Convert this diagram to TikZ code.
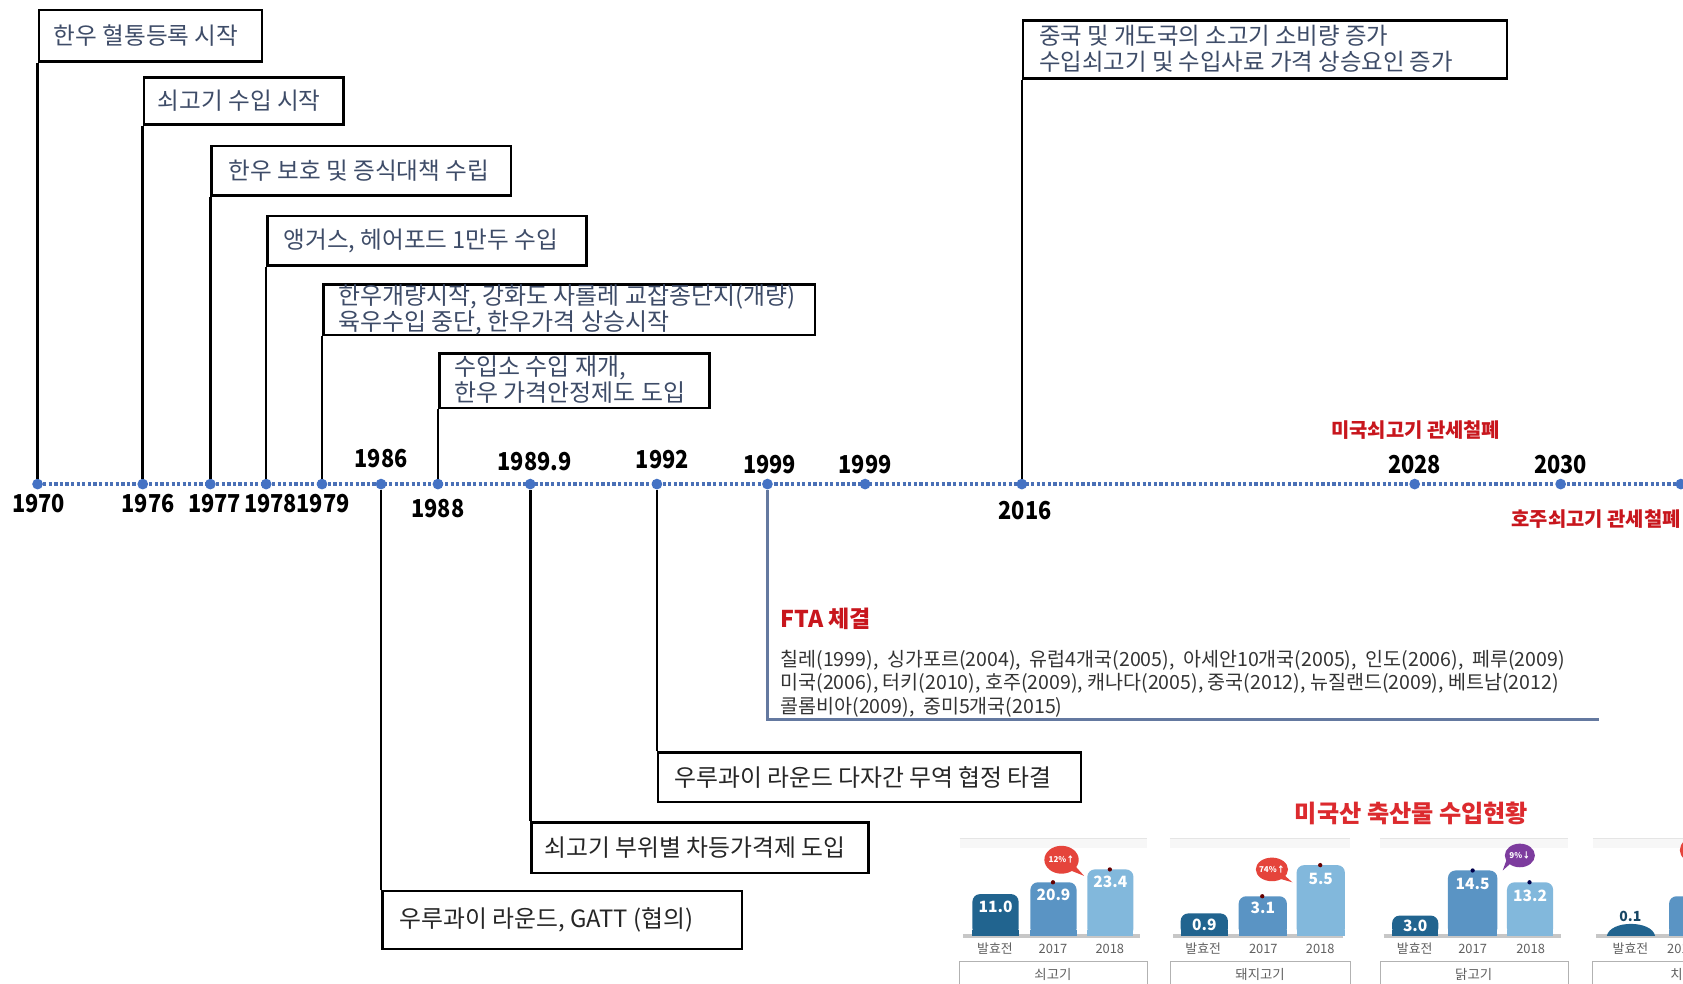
\documentclass[tikz,border=0pt]{standalone}
\usepackage{fontspec}
\setmainfont{Noto Sans CJK KR}
\newfontfamily\yrfont{Noto Sans CJK KR}[FakeStretch=0.88]
\definecolor{tl}{HTML}{4A70B6}
\definecolor{dotc}{HTML}{4472C4}
\definecolor{slate}{HTML}{3E4C68}
\definecolor{redt}{HTML}{C8161D}
\definecolor{titred}{HTML}{DC2A2E}
\definecolor{ftaline}{HTML}{6479A0}
\definecolor{barA}{HTML}{21648F}
\definecolor{barB}{HTML}{5A94C4}
\definecolor{barC}{HTML}{82B8DC}
\definecolor{bubR}{HTML}{E5443B}
\definecolor{bubP}{HTML}{7D3C9E}
\definecolor{grayt}{HTML}{606060}
\newcommand\chartbar[6]{%
  \fill[#1, rounded corners=7pt] (#2,872) rectangle (#3,#4);
  \fill[#1] (#2,872) rectangle (#3,866);
  \node[valtxt] at ({(#2+#3)/2},{#4+#6}) {#5};}
\begin{document}
\begin{tikzpicture}[x=1pt,y=-1pt,
  evbox/.style={draw=black, line width=2.4pt, fill=white, anchor=north west, inner sep=0pt},
  evtxt/.style={anchor=west, inner sep=0pt, text=slate, align=left, font=\fontsize{22}{24}\selectfont},
  evtxtb/.style={anchor=west, inner sep=0pt, text=slate, align=left, font=\fontsize{22.3}{24}\selectfont},
  lowtxt/.style={anchor=west, inner sep=0pt, text=black!85, font=\fontsize{22.2}{24}\selectfont},
  conn/.style={draw=black, line width=2.4pt},
  tline/.style={draw=tl, line width=3.5pt, dash pattern=on 3pt off 2.2pt},
  dot/.style={circle, fill=dotc, inner sep=0pt, minimum size=10pt},
  yr/.style={inner sep=0pt, font=\yrfont\fontsize{23}{26}\selectfont\bfseries},
  redlab/.style={inner sep=0pt, text=redt, font=\fontsize{18.5}{22}\selectfont\bfseries},
  valtxt/.style={inner sep=0pt, text=white, font=\fontsize{14.5}{16}\selectfont\bfseries},
  axtxt/.style={inner sep=0pt, text=grayt, font=\fontsize{12}{14}\selectfont},
  cattxt/.style={inner sep=0pt, text=grayt, font=\fontsize{12.5}{14}\selectfont},
  bubtxt/.style={inner sep=0pt, text=white, font=\fontsize{7.5}{9}\selectfont\bfseries}
]
\useasboundingbox (0,0) rectangle (1568,916);
\clip (0,0) rectangle (1568,916);
\fill[white] (0,0) rectangle (1568,916);

% timeline
\coordinate (tls) at (35,451);
\coordinate (tle) at (1570,451);
\draw[tline] (tls) -- (tle);

\node[dot] (d1970) at (35,451) {};
\node[dot] (d1976) at (133,451) {};
\node[dot] (d1977) at (196,451) {};
\node[dot] (d1978) at (248,451) {};
\node[dot] (d1979) at (300,451) {};
\node[dot] (d1986) at (355,451) {};
\node[dot] (d1988) at (408,451) {};
\node[dot] (d1989) at (494,451) {};
\node[dot] (d1992) at (612,451) {};
\node[dot] (d1999a) at (715,451) {};
\node[dot] (d1999b) at (806,451) {};
\node[dot] (d2016) at (952,451) {};
\node[dot] (d2028) at (1318,451) {};
\node[dot] (d2030) at (1454,451) {};
\node[dot] (dend) at (1566,451) {};

% year labels
\node[yr] at (36,469) {1970};
\node[yr] at (138,469) {1976};
\node[yr] at (200,469) {1977};
\node[yr] at (252,469) {1978};
\node[yr] at (301,469) {1979};
\node[yr] at (355,427) {1986};
\node[yr] at (408,474) {1988};
\node[yr] at (498,430) {1989.9};
\node[yr] at (617,428) {1992};
\node[yr] at (717,433) {1999};
\node[yr] at (806,433) {1999};
\node[yr] at (955,476) {2016};
\node[yr] at (1318,433) {2028};
\node[yr] at (1454,433) {2030};

\node[redlab] at (1319,401) {미국쇠고기 관세철폐};
\node[redlab, anchor=east] at (1566,484) {호주쇠고기 관세철폐};

% upper boxes
\node[evbox, minimum width=208pt, minimum height=48pt] (b1) at (35,8) {};
\node[evtxt] at ([xshift=15pt]b1.west) {한우 혈통등록 시작};
\node[evbox, minimum width=186pt, minimum height=44pt] (b2) at (133,71) {};
\node[evtxt] at ([xshift=14pt]b2.west) {쇠고기 수입 시작};
\node[evbox, minimum width=279pt, minimum height=46pt] (b3) at (196,135) {};
\node[evtxt] at ([xshift=17pt]b3.west) {한우 보호 및 증식대책 수립};
\node[evbox, minimum width=297pt, minimum height=46pt] (b4) at (248,200) {};
\node[evtxt] at ([xshift=16pt]b4.west) {앵거스, 헤어포드 1만두 수입};
\node[evbox, minimum width=458pt, minimum height=47pt] (b5) at (300,264) {};
\node[evtxtb] at ([xshift=15pt]b5.west) {한우개량시작, 강화도 사롤레 교잡종단지(개량)\\육우수입 중단, 한우가격 상승시작};
\node[evbox, minimum width=252pt, minimum height=51pt] (b6) at (408,328) {};
\node[evtxtb] at ([xshift=15pt,yshift=1pt]b6.west) {수입소 수입 재개,\\한우 가격안정제도 도입};
\node[evbox, minimum width=451pt, minimum height=54pt] (b7) at (952,18) {};
\node[evtxtb, font=\fontsize{21.8}{24}\selectfont] at ([xshift=16pt,yshift=1pt]b7.west) {중국 및 개도국의 소고기 소비량 증가\\수입쇠고기 및 수입사료 가격 상승요인 증가};

\draw[conn] (b1.south west) -- (d1970);
\draw[conn] (b2.south west) -- (d1976);
\draw[conn] (b3.south west) -- (d1977);
\draw[conn] (b4.south west) -- (d1978);
\draw[conn] (b5.south west) -- (d1979);
\draw[conn] (b6.south west) -- (d1988);
\draw[conn] (b7.south west) -- (d2016);

% lower boxes
\node[evbox, minimum width=335pt, minimum height=54pt] (b8) at (355,829) {};
\node[lowtxt] at ([xshift=17pt]b8.west) {우루과이 라운드, GATT (협의)};
\node[evbox, minimum width=314pt, minimum height=47pt] (b9) at (494,765) {};
\node[lowtxt] at ([xshift=13pt]b9.west) {쇠고기 부위별 차등가격제 도입};
\node[evbox, minimum width=394pt, minimum height=46pt] (b10) at (612,700) {};
\node[lowtxt] at ([xshift=16pt]b10.west) {우루과이 라운드 다자간 무역 협정 타결};

\draw[conn] (d1986) -- (b8.north west);
\draw[conn] (d1989) -- (b9.north west);
\draw[conn] (d1992) -- (b10.north west);

% FTA
\coordinate (ftaend) at (1490,670);
\draw[draw=ftaline, line width=2.6pt] (d1999a) |- (ftaend);
\node[anchor=west, inner sep=0pt, text=redt, font=\fontsize{21.5}{24}\selectfont\bfseries] (fta) at (727,577) {FTA 체결};
\node[anchor=west, inner sep=0pt, align=left, text=black!80, font=\fontsize{18.2}{21.5}\selectfont] (ftalist) at (727,637)
 {칠레(1999),\ \ 싱가포르(2004),\ \ 유럽4개국(2005),\ \ 아세안10개국(2005),\ \ 인도(2006),\ \ 페루(2009)\\
  미국(2006), 터키(2010), 호주(2009), 캐나다(2005), 중국(2012), 뉴질랜드(2009), 베트남(2012)\\
  콜롬비아(2009),\ \ 중미5개국(2015)};

% chart
\node[inner sep=0pt, text=titred, font=\fontsize{22.5}{26}\selectfont\bfseries] (ctitle) at (1315,758) {미국산 축산물 수입현황};

% panel frames
\foreach \a/\b in {894/1069, 1090/1258, 1286/1461, 1484/1580}{
  \fill[black!3] (\a,781) rectangle (\b,790);
  \draw[black!10, line width=1pt] (\a,781) -- (\b,781);
  \draw[black!22, line width=3.5pt] (\a+3,872) -- (\b-7,872);
  \draw[black!30, line width=0.8pt] (\a,925) -- (\a,896) -- (\b,896) -- (\b,925);
}

% panel 1
\chartbar{barA}{906}{949}{833}{11.0}{12}
\chartbar{barB}{960}{1003}{822}{20.9}{12}
\chartbar{barC}{1013}{1056}{810}{23.4}{12}
\fill[black!60!red] (981,822) circle (2pt);
\fill[black!60!red] (1034,810) circle (2pt);
\fill[bubR] (1001,806) -- (1010,816) -- (995,810) -- cycle;
\fill[bubR] (989,801) ellipse [x radius=16pt, y radius=13pt];
\node[bubtxt] at (989,801) {12\%↑};
\node[axtxt] at (927,884) {발효전};
\node[axtxt] at (981,884) {2017};
\node[axtxt] at (1034,884) {2018};
\node[cattxt] at (981,908) {쇠고기};

% panel 2
\chartbar{barA}{1100}{1144}{851}{0.9}{11}
\chartbar{barB}{1154}{1199}{835}{3.1}{11}
\chartbar{barC}{1208}{1253}{806}{5.5}{13}
\fill[black!60!red] (1176,835) circle (2pt);
\fill[black!60!red] (1230,806) circle (2pt);
\fill[bubR] (1195,814) -- (1204,822) -- (1190,818) -- cycle;
\fill[bubR] (1185,810) ellipse [x radius=15pt, y radius=11pt];
\node[bubtxt] at (1185,810) {74\%↑};
\node[axtxt] at (1121,884) {발효전};
\node[axtxt] at (1177,884) {2017};
\node[axtxt] at (1230,884) {2018};
\node[cattxt] at (1174,908) {돼지고기};

% panel 3
\chartbar{barA}{1297}{1340}{853}{3.0}{10}
\chartbar{barB}{1349}{1395}{811}{14.5}{13}
\chartbar{barC}{1404}{1447}{822}{13.2}{13}
\fill[black!70!blue] (1372,811) circle (2pt);
\fill[black!70!blue] (1425,822) circle (2pt);
\fill[bubP] (1409,803) -- (1400,811) -- (1404,800) -- cycle;
\fill[bubP] (1416,797) ellipse [x radius=14pt, y radius=11pt];
\node[bubtxt] at (1416,797) {9\%↓};
\node[axtxt] at (1318,884) {발효전};
\node[axtxt] at (1372,884) {2017};
\node[axtxt] at (1426,884) {2018};
\node[cattxt] at (1373,908) {닭고기};

% panel 4 (cut by the edge)
\fill[barA] (1497,872) .. controls (1500,857) and (1539,857) .. (1542,872) -- cycle;
\node[inner sep=0pt, text=barA!70!black, font=\fontsize{13}{15}\selectfont\bfseries] at (1519,854) {0.1};
\chartbar{barB}{1555}{1600}{835}{}{12}
\fill[bubR] (1580,792) ellipse [x radius=15pt, y radius=12pt];
\node[axtxt] at (1519,884) {발효전};
\node[axtxt, anchor=west] at (1553,884) {2017};
\node[cattxt, anchor=west] at (1556,908) {치즈};
\end{tikzpicture}
\end{document}
